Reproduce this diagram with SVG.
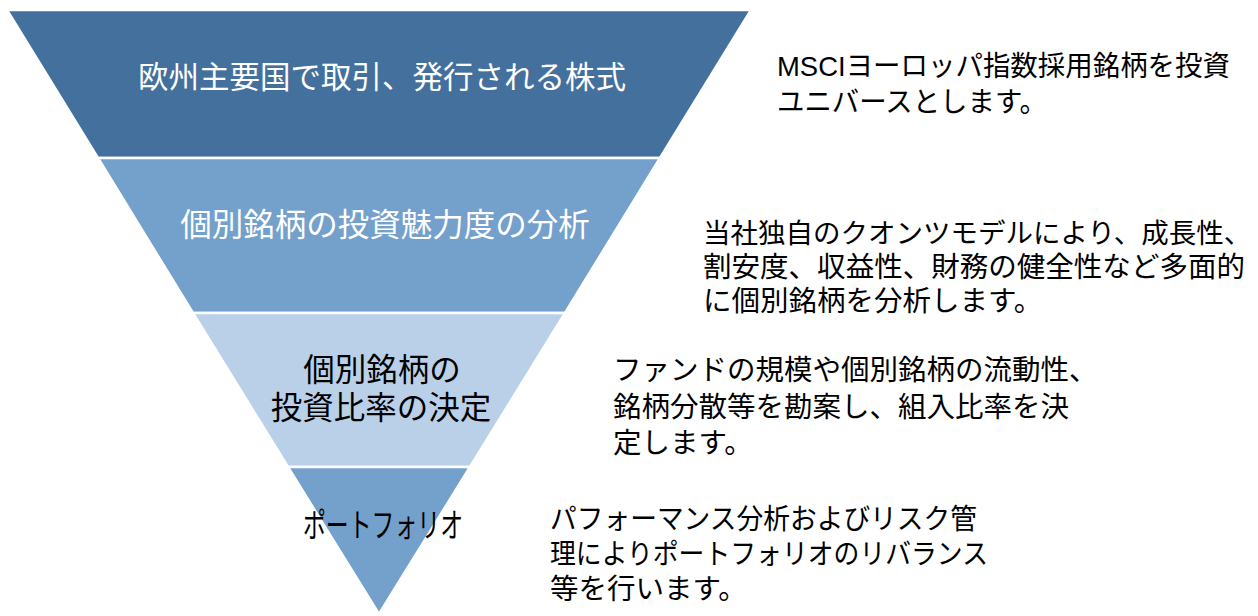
<svg xmlns="http://www.w3.org/2000/svg" width="1258" height="616" viewBox="0 0 1258 616">
<style>
.band{stroke:#ffffff;stroke-width:2.5;stroke-linejoin:miter}
.t{font-family:"Liberation Sans","Noto Sans CJK JP",sans-serif;text-anchor:middle}
.w{fill:#ffffff}
.b{fill:#000000}
.d{font-family:"Liberation Sans","Noto Sans CJK JP",sans-serif;fill:#000000;font-size:28.5px}
</style>
<rect width="1258" height="616" fill="#ffffff"/>
<g id="band1">
<polygon class="band" points="7,10 751,10 660,158 98,158" fill="#43709d"/>
<text class="t w" x="382" y="88" font-size="30.5">欧州主要国で取引、発行される株式</text>
</g>
<g id="band2">
<polygon class="band" points="98,158 660,158 565,313 193,313" fill="#74a0cc"/>
<text class="t w" x="385" y="236" font-size="31.5">個別銘柄の投資魅力度の分析</text>
</g>
<g id="band3">
<polygon class="band" points="193,313 565,313 470,467 288,467" fill="#bad0e9"/>
<text class="t b" font-size="31.5"><tspan x="382" y="381">個別銘柄の</tspan><tspan x="381" y="419">投資比率の決定</tspan></text>
</g>
<g id="band4">
<polygon class="band" points="288,467 470,467 379,614" fill="#74a0cc"/>
<text class="t b" x="383" y="537" font-size="33" textLength="160" lengthAdjust="spacingAndGlyphs">ポートフォリオ</text>
</g>
<g id="desc1">
<text class="d"><tspan x="777" y="76" textLength="453" lengthAdjust="spacingAndGlyphs">MSCIヨーロッパ指数採用銘柄を投資</tspan><tspan x="777" y="112" textLength="270" lengthAdjust="spacingAndGlyphs">ユニバースとします。</tspan></text>
</g>
<g id="desc2">
<text class="d"><tspan x="703" y="243" font-size="27.5">当社独自のクオンツモデルにより、成長性、</tspan><tspan x="703" y="277" textLength="542" lengthAdjust="spacingAndGlyphs">割安度、収益性、財務の健全性など多面的</tspan><tspan x="703" y="311">に個別銘柄を分析します。</tspan></text>
</g>
<g id="desc3">
<text class="d"><tspan x="613" y="380">ファンドの規模や個別銘柄の流動性、</tspan><tspan x="613" y="417">銘柄分散等を勘案し、組入比率を決</tspan><tspan x="613" y="453">定します。</tspan></text>
</g>
<g id="desc4">
<text class="d"><tspan x="550" y="529" textLength="427" lengthAdjust="spacingAndGlyphs">パフォーマンス分析およびリスク管</tspan><tspan x="550" y="564" textLength="438" lengthAdjust="spacingAndGlyphs">理によりポートフォリオのリバランス</tspan><tspan x="550" y="599">等を行います。</tspan></text>
</g>
<g id="connectors"/>
</svg>
